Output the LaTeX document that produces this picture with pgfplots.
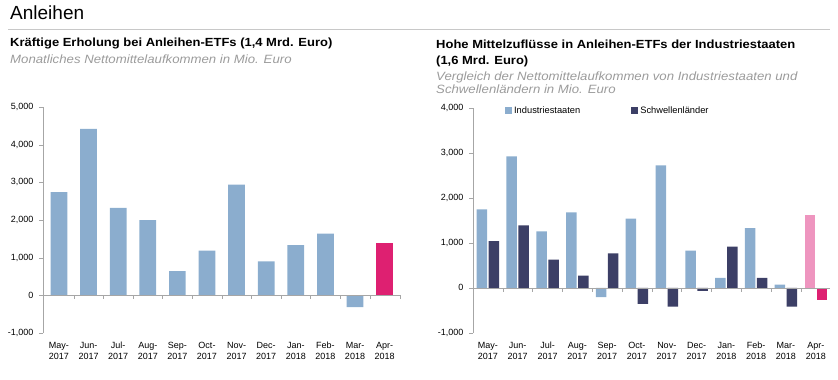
\documentclass[border=0pt]{standalone}
\usepackage{fontspec}
\setmainfont{Liberation Sans}
\newfontfamily\widefont{Liberation Sans}[FakeStretch=1.1]
\usepackage{pgfplots}
\pgfplotsset{compat=1.18}
\definecolor{lblue}{HTML}{8BADCE}
\definecolor{navy}{HTML}{3C3F66}
\definecolor{mag}{HTML}{DE2071}
\definecolor{pinkl}{HTML}{EE95BF}
\definecolor{axgray}{HTML}{A6A6A6}
\definecolor{subgray}{HTML}{9B9B9B}
\definecolor{rulegray}{HTML}{C8C8C8}
\newcommand\tl[2]{\strut #1\\\strut #2}
\pgfplotsset{mystyle/.style={
  scale only axis, anchor=south west,
  axis x line=bottom, axis y line=left,
  x axis line style={draw=none},
  y axis line style={axgray,-},
  major x tick style={draw=none},
  ytick style={axgray}, tick align=outside, major tick length=4pt,
  xtick={0,...,11},
  xticklabels={{\tl{May-}{2017}},{\tl{Jun-}{2017}},{\tl{Jul-}{2017}},{\tl{Aug-}{2017}},{\tl{Sep-}{2017}},{\tl{Oct-}{2017}},{\tl{Nov-}{2017}},{\tl{Dec-}{2017}},{\tl{Jan-}{2018}},{\tl{Feb-}{2018}},{\tl{Mar-}{2018}},{\tl{Apr-}{2018}}},
  xticklabel style={align=center, font=\fontsize{9}{11}\selectfont, text=black, yshift=-4pt, inner sep=0pt},
  yticklabel style={font=\fontsize{9}{10}\selectfont, text=black, xshift=-2pt},
  /pgf/number format/assume math mode=true,
  /pgf/number format/1000 sep={,},
  ybar, clip=false,
}}
\begin{document}
\begin{tikzpicture}
\path[use as bounding box] (0,0) rectangle (838pt,-380pt);
\node[anchor=base west, inner sep=0pt, font=\fontsize{19}{21}\selectfont] at (10pt,-19.5pt) {Anleihen};
\draw[rulegray, line width=1.5pt] (8pt,-29.5pt) -- (830pt,-29.5pt);
\node[anchor=base west, inner sep=0pt, font=\widefont\fontsize{11.8}{13}\selectfont\bfseries] at (10pt,-46.7pt) {Kräftige Erholung bei Anleihen-ETFs (1,4 Mrd. Euro)};
\node[anchor=base west, inner sep=0pt, font=\widefont\fontsize{12}{13}\selectfont\itshape, text=subgray] at (10pt,-63pt) {Monatliches Nettomittelaufkommen in Mio. Euro};
\node[anchor=base west, inner sep=0pt, font=\widefont\fontsize{11.8}{13}\selectfont\bfseries] at (436pt,-48pt) {Hohe Mittelzuflüsse in Anleihen-ETFs der Industriestaaten};
\node[anchor=base west, inner sep=0pt, font=\widefont\fontsize{11.8}{13}\selectfont\bfseries] at (436pt,-64.3pt) {(1,6 Mrd. Euro)};
\node[anchor=base west, inner sep=0pt, font=\widefont\fontsize{12}{13}\selectfont\itshape, text=subgray] at (436pt,-80pt) {Vergleich der Nettomittelaufkommen von Industriestaaten und};
\node[anchor=base west, inner sep=0pt, font=\widefont\fontsize{12}{13}\selectfont\itshape, text=subgray] at (436pt,-93.3pt) {Schwellenländern in Mio. Euro};

\begin{axis}[mystyle, at={(43pt,-333pt)}, width=357pt, height=226pt,
  xmin=-0.54, xmax=11.52, ymin=-1000, ymax=5000, ytick={-1000,0,...,5000},
  bar width=16.7pt]
\addplot[fill=lblue, draw=none, bar shift=0pt] coordinates {(0,2740) (1,4420) (2,2320) (3,2000) (4,640) (5,1190) (6,2940) (7,900) (8,1330) (9,1640) (10,-310)};
\addplot[fill=mag, draw=none, bar shift=0pt] coordinates {(11,1380)};
\draw[axgray] (axis cs:-0.54,0) -- (axis cs:11.52,0);
\pgfplotsinvokeforeach{0,...,10}{\draw[axgray] (axis cs:#1.5,0) -- ++(0pt,-4pt);}
\draw[axgray] (axis cs:11.52,0) -- ++(0pt,-4pt);
\end{axis}

\begin{axis}[mystyle, at={(473pt,-332.7pt)}, width=355pt, height=224.4pt,
  xmin=-0.5, xmax=11.41, ymin=-1000, ymax=4000, ytick={-1000,0,...,4000},
  bar width=10.5pt,
  legend columns=2,
  legend style={draw=none, fill=none, inner sep=0pt, at={(0.09,0.989)}, anchor=west,
    font=\fontsize{9.3}{10}\selectfont, /tikz/every even column/.append style={column sep=49pt}},
  legend cell align=left]
\addplot[fill=lblue, draw=none, bar shift=-6pt, legend image code/.code={\fill[lblue] (0pt,-3.4pt) rectangle (7pt,3.4pt);}] coordinates {(0,1750) (1,2930) (2,1260) (3,1680) (4,-210) (5,1540) (6,2730) (7,830) (8,220) (9,1330) (10,70)};
\addlegendentry{Industriestaaten}
\addplot[fill=navy, draw=none, bar shift=6pt, legend image code/.code={\fill[navy] (0pt,-3.4pt) rectangle (7pt,3.4pt);}] coordinates {(0,1040) (1,1390) (2,630) (3,270) (4,770) (5,-360) (6,-420) (7,-70) (8,920) (9,220) (10,-420)};
\addlegendentry{Schwellenländer}
\addplot[fill=pinkl, draw=none, bar shift=-6pt, forget plot] coordinates {(11,1620)};
\addplot[fill=mag, draw=none, bar shift=6pt, forget plot] coordinates {(11,-280)};
\draw[axgray] (axis cs:-0.5,0) -- (axis cs:11.48,0);
\pgfplotsinvokeforeach{0,...,10}{\draw[axgray] (axis cs:#1.5,0) -- ++(0pt,-4pt);}
\end{axis}
\end{tikzpicture}
\end{document}
